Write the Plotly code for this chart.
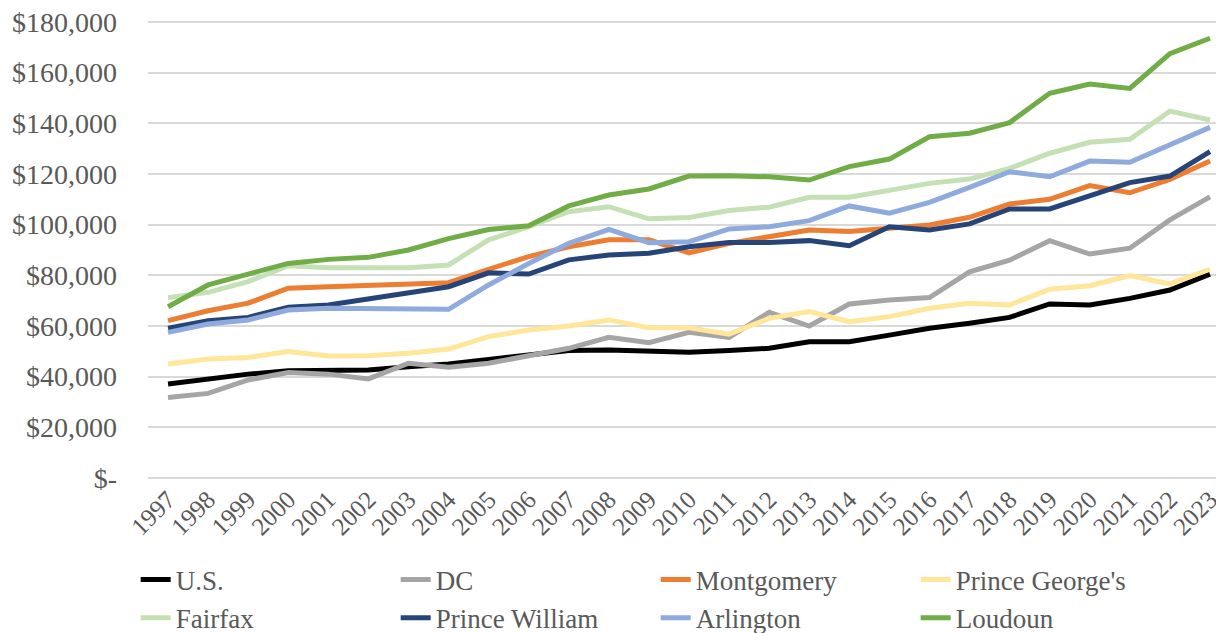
import plotly.graph_objects as go

years = list(range(1997, 2024))

us = [37100, 39000, 41000, 42300, 42600, 42600, 43900, 45000, 46800, 48500, 50300, 50500, 49900,
      49600, 50300, 51200, 53800, 53800, 56400, 59100, 61100, 63400, 68700, 68300, 70900, 74200, 80500]
dc = [31800, 33400, 38700, 41600, 41000, 39100, 45300, 43700, 45300, 48200, 51200, 55500, 53400,
      57500, 55500, 65400, 60000, 68700, 70300, 71200, 81400, 86000, 93700, 88400, 90700, 101900, 111000]
montgomery = [62100, 66000, 69000, 74900, 75500, 75900, 76700, 77100, 82400, 87400, 91300, 94000, 94000,
              88900, 92600, 95000, 97900, 97300, 98600, 99900, 102900, 108200, 110000, 115400, 112600, 117900, 125100]
prince_georges = [45000, 47000, 47600, 49900, 48200, 48300, 49200, 50900, 55800, 58400, 60000, 62400, 59300,
                  59300, 56800, 63000, 65700, 61700, 63700, 67000, 69000, 68300, 74500, 75900, 79900, 76600, 82400]
fairfax = [71200, 73300, 77500, 83800, 83000, 83000, 83000, 84100, 94000, 99200, 105100, 107100, 102300,
           102800, 105600, 106900, 110800, 110800, 113400, 116300, 118000, 122200, 128200, 132500, 133700, 144800, 141300]
prince_william = [59100, 62100, 63400, 67400, 68300, 70700, 72900, 75500, 81000, 80500, 86100, 88000, 88700,
                  91300, 93000, 93000, 93700, 91700, 99200, 97900, 100300, 106200, 106200, 111300, 116600, 119200, 128800]
arlington = [57500, 60800, 62400, 66300, 67000, 67000, 67000, 66600, 76200, 84700, 92600, 98100, 92900,
             93300, 98300, 99200, 101600, 107400, 104500, 108800, 114700, 120900, 118900, 125100, 124600, 131500, 138400]
loudoun = [67600, 76200, 80500, 84700, 86300, 87100, 90000, 94500, 98100, 99600, 107400, 111700, 114100,
           119200, 119300, 118900, 117600, 122900, 125900, 134700, 136100, 140300, 151900, 155500, 153800, 167500, 173600]

names = ["U.S.", "DC", "Montgomery", "Prince George's", "Fairfax", "Prince William", "Arlington", "Loudoun"]
series = [us, dc, montgomery, prince_georges, fairfax, prince_william, arlington, loudoun]
colors = ["#000000", "#a5a5a5", "#ed7d31", "#ffe699", "#c5e0b4", "#264478", "#8faadc", "#70ad47"]

y_ticks = list(range(0, 180001, 20000))
y_labels = ["$-"] + ["${:,}".format(v) for v in y_ticks[1:]]

font_family = "Liberation Serif"
grey = "#595959"

fig = go.Figure()
for name, vals, col in zip(names, series, colors):
    fig.add_trace(go.Scatter(x=years, y=vals, name=name, mode="lines",
                             line=dict(color=col, width=5)))

# page body adds an 8px offset, so the figure is a bit smaller than the window
fig.update_layout(
    width=1216, height=625,
    margin=dict(l=140, r=2, t=13, b=154),
    plot_bgcolor="white", paper_bgcolor="white",
    font=dict(family=font_family, size=27, color=grey),
    showlegend=True,
    legend=dict(orientation="h", x=0.105, xref="container", y=0.124, yref="container",
                xanchor="left", yanchor="top",
                entrywidth=215, entrywidthmode="pixels",
                font=dict(size=27, color=grey), tracegroupgap=0),
)
fig.update_xaxes(range=[1996.5, 2023.3], tickvals=years, ticktext=[str(y) for y in years],
                 tickangle=-45, tickfont=dict(size=25), showgrid=False, zeroline=False,
                 showline=False, ticks="", automargin=False)
# small padding so the gridlines at $0 and $180,000 are drawn too
fig.update_yaxes(range=[-400, 180400], tickvals=y_ticks, ticktext=y_labels,
                 tickfont=dict(size=28), showgrid=True, gridcolor="#d9d9d9", gridwidth=1.5,
                 zeroline=False, showline=False, ticks="", ticklabelstandoff=30, automargin=False,
                 ticklabeloverflow="allow")

fig.write_html("out.html")
